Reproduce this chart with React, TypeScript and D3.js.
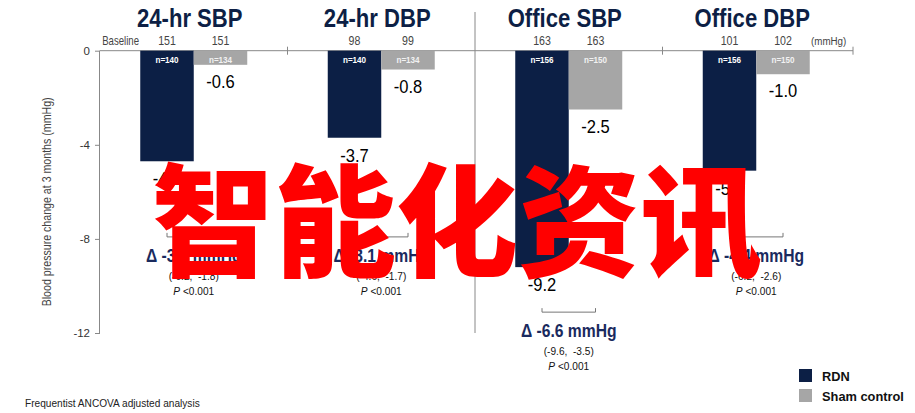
import * as d3 from 'd3';

import React, { useEffect, useRef } from 'react';

const groups: string[] = ['24-hr SBP', '24-hr DBP', 'Office SBP', 'Office DBP'];
const baselineRDN: number[] = [151, 98, 163, 101];
const baselineSham: number[] = [151, 99, 163, 102];
const changeRDN: number[] = [-4.7, -3.7, -9.2, -5.1];
const changeSham: number[] = [-0.6, -0.8, -2.5, -1.0];
const nRDN: number[] = [140, 140, 156, 156];
const nSham: number[] = [134, 134, 150, 150];
const deltas: number[] = [-3.9, -3.1, -6.6, -4.4];
const ciLow: number[] = [-6.2, -4.6, -9.6, -6.2];
const ciHigh: number[] = [-1.8, -1.7, -3.5, -2.6];
const pValues: string[] = ['<0.001', '<0.001', '<0.001', '<0.001'];
const yTicks: number[] = [0, -4, -8, -12];
const seriesNames: string[] = ['RDN', 'Sham control'];

const NAVY = '#0c1f45';
const GREY = '#a6a6a6';
const SANS = '"Liberation Sans", Arial, sans-serif';

const fmt = (v: number) => v.toFixed(1);

type Sel = d3.Selection<any, unknown, null, undefined>;

interface TextOpts {
  size: number;
  fill?: string;
  weight?: string;
  anchor?: string;
  sx?: number;
  rotate?: number;
}

// draws a text squeezed horizontally, to imitate the condensed face of the original
function addText(parent: Sel, x: number, y: number, str: string, o: TextOpts) {
  const g = parent
    .append('g')
    .attr('transform', `translate(${x},${y}) rotate(${o.rotate ?? 0}) scale(${o.sx ?? 1},1)`);
  return g
    .append('text')
    .attr('text-anchor', o.anchor ?? 'middle')
    .attr('font-family', SANS)
    .attr('font-size', o.size)
    .attr('font-weight', o.weight ?? 'normal')
    .attr('fill', o.fill ?? '#000')
    .attr('xml:space', 'preserve')
    .text(str);
}

export default function App() {
  const ref = useRef<SVGSVGElement>(null);

  useEffect(() => {
    const width = 915;
    const height = 413;
    const svg = d3.select(ref.current).attr('width', width).attr('height', height) as Sel;
    svg.selectAll('*').remove();

    const x = d3.scaleBand<string>().domain(groups).range([100, 850]).paddingInner(0);
    const y = d3.scaleLinear().domain([0, -12]).range([50.7, 333]);
    const barW = 53.5;

    // y axis
    const yAxis = d3.axisLeft(y).tickValues(yTicks).tickSize(5).tickFormat((d) => `${d}`);
    const ya = svg.append('g').attr('transform', 'translate(100,0)').call(yAxis);
    ya.select('.domain').attr('stroke', '#888').attr('d', `M-0.5,${y(0)}V${y(-12)}`);
    ya.selectAll('.tick line').attr('stroke', '#888');
    ya.selectAll('.tick text')
      .attr('font-family', SANS)
      .attr('font-size', 11.5)
      .attr('fill', '#333')
      .attr('x', -10);

    addText(svg, 51, (y(0) + y(-12)) / 2 + 10, 'Blood pressure change at 3 months (mmHg)', {
      size: 12.5,
      fill: '#444',
      rotate: -90,
      sx: 0.85,
    });

    // x axis line along zero
    const xa = svg.append('g');
    xa.append('line')
      .attr('x1', 100)
      .attr('x2', 853)
      .attr('y1', y(0))
      .attr('y2', y(0))
      .attr('stroke', '#888');
    const bounds = groups.map((g) => (x(g) ?? 0) + x.bandwidth());
    xa.selectAll('line.tk')
      .data(bounds.filter((_, i) => i !== 1))
      .join('line')
      .attr('class', 'tk')
      .attr('x1', (d, i) => (i === 2 ? d + 3 : d))
      .attr('x2', (d, i) => (i === 2 ? d + 3 : d))
      .attr('y1', y(0) - 4)
      .attr('y2', y(0) + 4)
      .attr('stroke', '#888');
    // separator between 24-hr and office panels
    xa.append('line')
      .attr('x1', bounds[1])
      .attr('x2', bounds[1])
      .attr('y1', 12)
      .attr('y2', y(-12))
      .attr('stroke', '#888');

    const cx = (g: string) => (x(g) ?? 0) + x.bandwidth() / 2;

    // titles
    groups.forEach((g) => {
      addText(svg, cx(g) - 4, 27, g, { size: 26, weight: 'bold', fill: '#0d1f45', sx: 0.85 });
    });

    // baseline row
    addText(svg, 139, 45, 'Baseline', { size: 12, fill: '#444', anchor: 'end', sx: 0.8 });
    addText(svg, 811, 45, '(mmHg)', { size: 11.5, fill: '#444', anchor: 'start', sx: 0.85 });

    const bars = svg.append('g');
    groups.forEach((g, i) => {
      const xr = cx(g) - barW;
      const xs = cx(g);
      const cols = [
        { x0: xr, v: changeRDN[i], base: baselineRDN[i], n: nRDN[i], fill: NAVY, nFill: '#fff', off: 24 },
        { x0: xs, v: changeSham[i], base: baselineSham[i], n: nSham[i], fill: GREY, nFill: '#f2f2f2', off: 23 },
      ];
      cols.forEach((c) => {
        bars
          .append('rect')
          .attr('x', c.x0)
          .attr('y', y(0))
          .attr('width', barW)
          .attr('height', y(c.v) - y(0))
          .attr('fill', c.fill);
        const mx = c.x0 + barW / 2;
        addText(bars, mx, 45, `${c.base}`, { size: 12.5, fill: '#444', sx: 0.85 });
        addText(bars, mx, y(0) + 12, `n=${c.n}`, { size: 9.5, weight: 'bold', fill: c.nFill, sx: 0.85 });
        addText(bars, mx, y(c.v) + c.off, fmt(c.v), { size: 18, fill: '#000', sx: 0.92 });
      });

      // bracket and difference
      const by = Math.max(y(-8) - 2, y(changeRDN[i]) + 45);
      const bx1 = xr + barW / 2;
      const bx2 = xs + barW / 2;
      bars
        .append('path')
        .attr('d', `M${bx1},${by - 4}V${by}H${bx2}V${by - 4}`)
        .attr('fill', 'none')
        .attr('stroke', '#777');
      const mid = (bx1 + bx2) / 2;
      addText(bars, mid, by + 25, `Δ ${fmt(deltas[i])} mmHg`, {
        size: 18,
        weight: 'bold',
        fill: '#1a2a5e',
        sx: 0.87,
      });
      addText(bars, mid, by + 43, `(${fmt(ciLow[i])},  ${fmt(ciHigh[i])})`, {
        size: 11.5,
        fill: '#111',
        sx: 0.88,
      });
      const pt = addText(bars, mid, by + 58, '', { size: 11.5, fill: '#111', sx: 0.88 });
      pt.append('tspan').attr('font-style', 'italic').text('P');
      pt.append('tspan').text(` ${pValues[i]}`);
    });

    // legend
    const leg = svg.append('g').attr('transform', 'translate(799,369)');
    seriesNames.forEach((s, i) => {
      leg
        .append('rect')
        .attr('x', 0)
        .attr('y', i * 20)
        .attr('width', 13)
        .attr('height', 13)
        .attr('fill', i === 0 ? NAVY : GREY);
      addText(leg as Sel, 23, i * 20 + 12, s, { size: 13.5, weight: 'bold', fill: '#111', anchor: 'start', sx: 0.95 });
    });

    addText(svg, 25, 407, 'Frequentist ANCOVA adjusted analysis', {
      size: 11.5,
      fill: '#222',
      anchor: 'start',
      sx: 0.88,
    });

    // watermark overlay
    svg
      .append('text')
      .attr('x', 152)
      .attr('y', 267)
      .attr('font-family', '"Noto Sans CJK SC", sans-serif')
      .attr('font-weight', 900)
      .attr('font-size', 122)
      .attr('fill', '#ff0000')
      .text('智能化资讯');
  }, []);

  return <svg ref={ref} style={{ position: 'absolute', left: 0, top: 0, background: '#fff' }}></svg>;
}
